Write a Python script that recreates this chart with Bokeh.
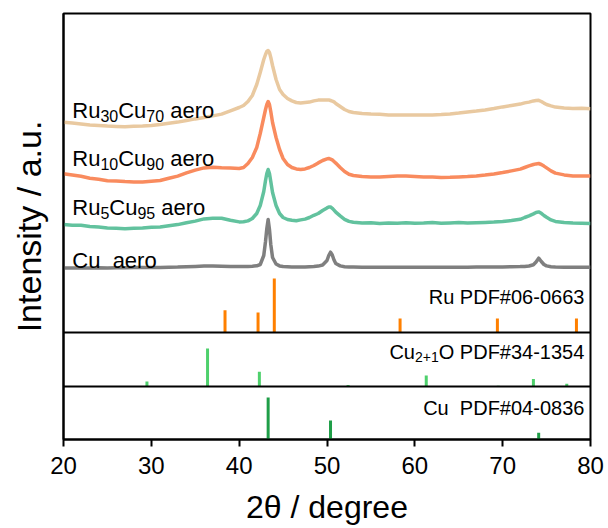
from bokeh.plotting import figure
from bokeh.models import Range1d, FixedTicker, ColumnDataSource
from bokeh.core.properties import value
from bokeh.embed import file_html
from bokeh.resources import INLINE

# ---------------- data ----------------
TWO_THETA = [20, 21, 22, 23, 24, 25, 26, 27, 28, 29, 30, 31, 32, 33, 34, 35, 36, 37, 38, 39, 40,
             40.5, 41, 41.5, 42, 42.4, 42.8, 43.0, 43.15, 43.3, 43.45, 43.6, 43.8, 44.2, 44.6, 45,
             45.5, 46, 46.5, 47, 47.5, 48, 48.5, 49, 49.5, 50, 50.2, 50.4, 50.6, 50.8, 51, 51.5,
             52, 52.5, 53,
             54, 55, 56, 57, 58, 59, 60, 61, 62, 63, 64, 65, 66, 67, 68, 69, 70, 71, 72,
             72.5, 73, 73.5, 73.8, 74.1, 74.4, 74.7, 75, 75.5, 76,
             77, 78, 79, 80]

CU_AERO = [11.5, 11.4, 11.6, 11.5, 11.7, 11.6, 11.8, 11.7, 11.9, 12.0, 12.1, 12.0, 12.3, 12.4, 12.7, 13.0, 13.4, 13.5, 13.2, 13.0, 12.9,
           12.9, 13.0, 13.3, 13.7, 15.0, 24, 38, 51, 60, 50, 35, 22, 15.5, 13.6, 13.0,
           12.8, 12.6, 12.5, 12.6, 12.6, 12.8, 13.0, 13.4, 14.5, 19.0, 24.0, 27.3, 24.5, 19.5, 16.0, 13.6,
           12.8, 12.5, 12.4,
           12.3, 12.2, 12.3, 12.2, 12.3, 12.2, 12.3, 12.2, 12.2, 12.3, 12.2, 12.3, 12.3, 12.4, 12.4, 12.5, 12.6, 12.7, 12.9,
           13.1, 13.5, 14.8, 17.5, 21.3, 18.0, 15.0, 13.6, 12.8, 12.5,
           12.3, 12.2, 12.2, 12.2]

RU5CU95 = [55, 54.3, 54.2, 53, 52.4, 51.6, 51.2, 50.8, 51.3, 51.4, 52.2, 52.6, 53.8, 54.9, 56.8, 58.4, 60.6, 61.3, 61.2, 59.2, 57.6,
           57.8, 58.6, 61, 66, 74, 88, 99, 106, 110, 106, 98, 87, 74, 66, 62,
           60, 59.2, 58.8, 59.6, 60.4, 62, 64.2, 66, 69, 71.6, 72.5, 72.6, 71.2, 69.4, 67.4, 63.6,
           60.2, 58.1, 57.2,
           56.4, 56.7, 55.9, 56.6, 56.2, 56.8, 56.3, 56.5, 56.9, 56.2, 56.6, 57, 56.4, 56.8, 57.1, 57.4, 58, 58.9, 60.2,
           62, 63.6, 65.6, 67, 67.6, 66.2, 64, 62.2, 59.6, 58.1,
           57.1, 56.4, 56.2, 56]

RU10CU90 = [105.7, 104.4, 103.2, 101.3, 100.2, 98.8, 98.6, 97.9, 97.6, 97.4, 98.2, 99, 101.2, 103.4, 106.6, 109.4, 111.6, 112.2, 111.8, 111.6, 111,
            112, 116, 122, 132, 146, 162, 170, 175, 178, 175, 168, 157, 142, 130, 121,
            115, 112, 110.6, 110, 110.6, 112, 114, 116.6, 119, 120.6, 121, 120.4, 119.6, 118, 116.4, 112,
            108, 105.2, 104,
            103, 102.6, 102.4, 103, 103.6, 103.4, 103, 102.6, 102.4, 102, 102.2, 102.6, 103, 103.6, 104.4, 105.6, 107, 108.6, 110.4,
            112, 113.6, 115, 115.6, 116, 115, 113.4, 111.6, 108.6, 106.4,
            104.6, 103.6, 103.4, 103.6]

RU30CU70 = [157.3, 156.4, 155.6, 154.4, 154, 153.4, 153.1, 152.8, 153.2, 153.5, 154.1, 154.9, 156.2, 157.4, 159, 160.6, 162, 163.6, 165.4, 168.6, 172,
            174, 178, 184, 195, 207, 220, 225, 228, 229, 227, 222, 214, 200, 190, 185,
            181, 178.6, 177, 176.4, 177, 177.4, 178.6, 179.4, 179.6, 179.4, 179.6, 179, 178.4, 177.6, 176, 173,
            170, 168, 167,
            166, 165.4, 165.2, 164.5, 164.6, 164.4, 164.6, 164.4, 164.6, 165, 165.6, 166.4, 167.6, 168.4, 169.6, 171, 172.6, 174, 175.4,
            176.6, 177.4, 178.6, 179, 179.2, 178, 176.4, 175, 173.6, 172.4,
            171.6, 171, 171.2, 170.8]

# reference patterns (position, relative intensity)
RU_POS = [38.39, 42.15, 44.0, 58.32, 69.4, 78.4]
RU_INT = [41, 37, 100, 26, 26, 26]
CU2O_POS = [29.5, 36.4, 42.3, 52.4, 61.3, 69.5, 73.5, 77.3]
CU2O_INT = [13, 100, 39, 4, 29, 2, 20, 7]
CU_POS = [43.3, 50.4, 74.1]
CU_INT = [100, 45, 16]

X_TICKS = [20, 30, 40, 50, 60, 70, 80]

FONT = "Liberation Sans"

# ---------------- layout (pixels) ----------------
W, H = 608, 528
LEFT, RIGHT, TOP, BOTTOM = 63, 18, 13, 89
F_TOP = TOP
F_BOT = H - BOTTOM


def make_range(base_px, px_per_unit):
    return Range1d(-(F_BOT - base_px) / px_per_unit, (base_px - F_TOP) / px_per_unit)


p = figure(width=W, height=H, output_backend="svg", toolbar_location=None,
           x_range=Range1d(20, 80), y_range=make_range(279, 1.0),
           min_border_left=LEFT, min_border_right=RIGHT,
           min_border_top=TOP, min_border_bottom=BOTTOM)
p.extra_y_ranges = {"ru": make_range(332, 0.54),
                    "cu2o": make_range(386, 0.38),
                    "cu": make_range(439, 0.42)}

p.background_fill_color = "white"
p.border_fill_color = "white"
p.grid.visible = False
p.outline_line_color = "black"
p.outline_line_width = 2
p.outline_line_alpha = 1.0

xa = p.xaxis[0]
xa.ticker = FixedTicker(ticks=X_TICKS)
xa.major_tick_in = 0
xa.major_tick_out = 7
xa.major_tick_line_width = 2
xa.minor_tick_line_color = None
xa.axis_line_width = 2
xa.major_label_text_font = FONT
xa.major_label_text_font_size = "24px"
xa.major_label_text_color = "black"
xa.major_label_standoff = 10
xa.axis_label = "2θ / degree"
xa.axis_label_text_font = FONT
xa.axis_label_text_font_size = "32px"
xa.axis_label_text_font_style = "normal"
xa.axis_label_text_color = "black"
xa.axis_label_standoff = 12

ya = p.yaxis[0]
ya.ticker = FixedTicker(ticks=[])
ya.major_tick_in = 0
ya.major_tick_out = 0
ya.minor_tick_line_color = None
ya.major_tick_line_color = None
ya.axis_line_width = 2
ya.axis_label = "Intensity / a.u."
ya.axis_label_text_font = FONT
ya.axis_label_text_font_size = "34px"
ya.axis_label_text_font_style = "normal"
ya.axis_label_text_color = "black"
ya.axis_label_standoff = 16

# ---------------- curves ----------------
curves = [(RU30CU70, "#E9C9A0"), (RU10CU90, "#F98B5E"), (RU5CU95, "#62C29E"), (CU_AERO, "#7F7F7F")]
for ys, col in curves:
    p.line(TWO_THETA, ys, line_color=col, line_width=3.5, line_join="round")

# ---------------- sticks ----------------
for pos, inten, col, rn in [(RU_POS, RU_INT, "#FF8000", "ru"),
                            (CU2O_POS, CU2O_INT, "#4ED06C", "cu2o"),
                            (CU_POS, CU_INT, "#1F9E48", "cu")]:
    src = ColumnDataSource(dict(x=pos, top=inten, base=[0] * len(pos)))
    p.segment(x0="x", y0="base", x1="x", y1="top", source=src, y_range_name=rn,
              line_color=col, line_width=3)

for rn in ["ru", "cu2o"]:
    p.hspan(y=[0], y_range_name=rn, line_color="black", line_width=2)

# ---------------- rich text labels ----------------
ARIAL = {' ': 278, '#': 556, '+': 584, '-': 333, 'C': 722, 'D': 722, 'F': 611, 'O': 778,
         'P': 667, 'R': 722, 'a': 556, 'e': 556, 'o': 556, 'r': 333, 'u': 556}


def tw(s, size):
    return sum(ARIAL.get(c, 556) for c in s) * size / 1000.0


def rich(x, y, parts, size, sub_size, drop, rn="default", right=False):
    total = sum(tw(t, sub_size if s else size) for t, s in parts)
    cur = -total if right else 0.0
    for t, s in parts:
        sz = sub_size if s else size
        lead = len(t) - len(t.lstrip(" "))
        cur_draw = cur + tw(" " * lead, sz)
        txt = t.strip(" ")
        if txt:
            p.text(x=[x], y=[y], text=[txt], x_offset=cur_draw, y_offset=(drop if s else 0),
                   text_font=value(FONT), text_font_size=f"{sz}px", text_color="black",
                   text_align="left", text_baseline="alphabetic", y_range_name=rn)
        cur += tw(t, sz)


rich(21.0, 169, [("Ru", 0), ("30", 1), ("Cu", 0), ("70", 1), (" aero", 0)], 22, 16, 5)
rich(21.0, 121, [("Ru", 0), ("10", 1), ("Cu", 0), ("90", 1), (" aero", 0)], 22, 16, 5)
rich(21.0, 72, [("Ru", 0), ("5", 1), ("Cu", 0), ("95", 1), (" aero", 0)], 22, 16, 5)
rich(21.0, 19, [("Cu", 0), ("  aero", 0)], 22, 16, 5)

rich(79.3, 65, [("Ru PDF#06-0663", 0)], 20, 14, 5, rn="ru", right=True)
rich(79.3, 90, [("Cu", 0), ("2+1", 1), ("O PDF#34-1354", 0)], 20, 14, 5, rn="cu2o", right=True)
rich(79.3, 75, [("Cu", 0), ("  PDF#04-0836", 0)], 20, 14, 5, rn="cu", right=True)

open("out.html", "w").write(file_html(p, INLINE))
